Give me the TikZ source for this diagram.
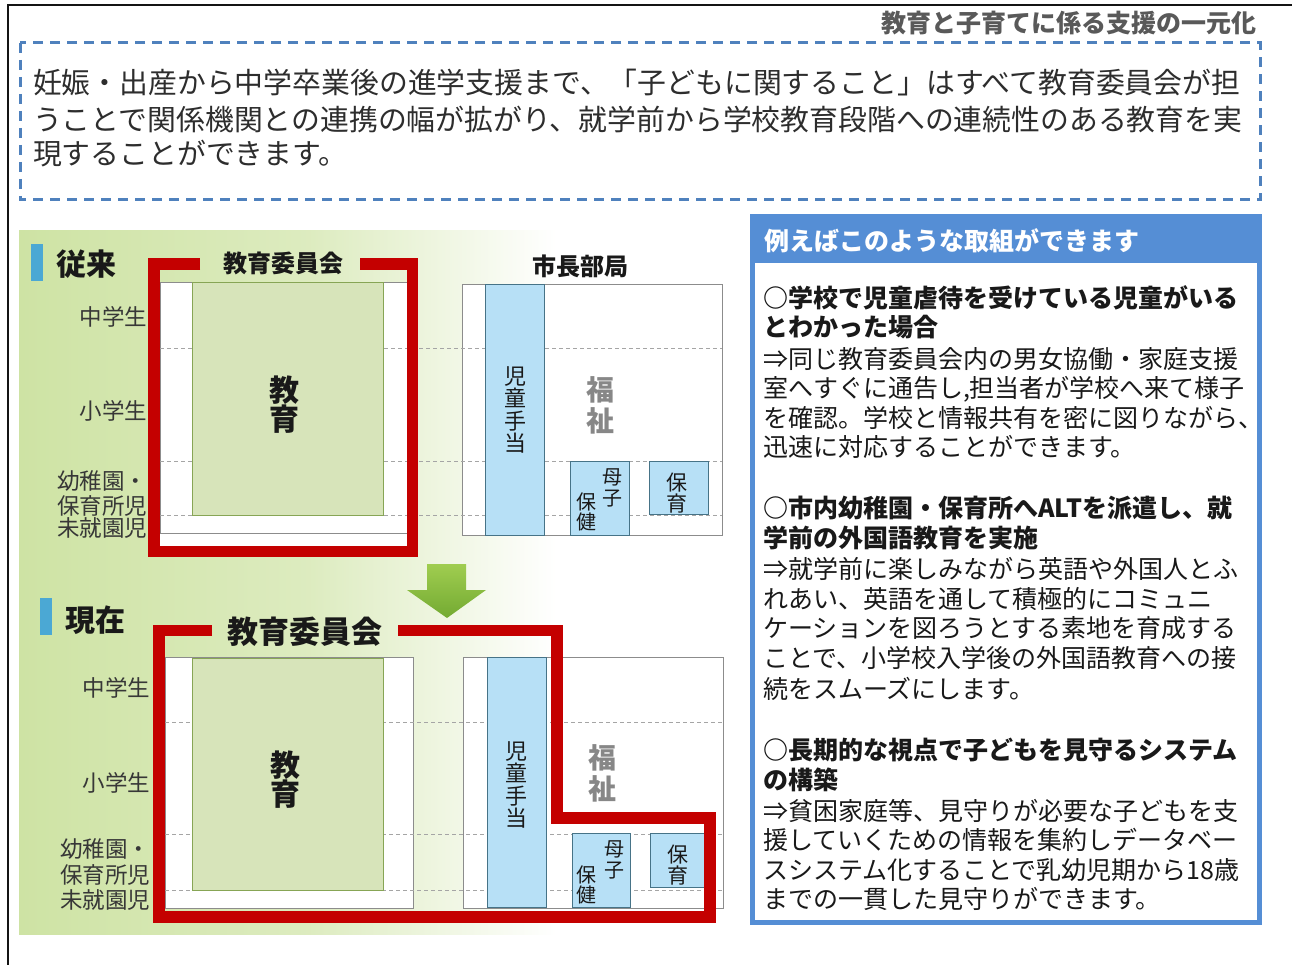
\documentclass[tikz,border=0pt]{standalone}
\usepackage{fontspec}
\setmainfont{Noto Sans CJK JP}
\definecolor{framebk}{RGB}{20,20,20}
\definecolor{titlegray}{RGB}{89,89,89}
\definecolor{dashblue}{RGB}{79,129,189}
\definecolor{paratext}{RGB}{45,45,45}
\definecolor{bggreen}{RGB}{206,227,164}
\colorlet{bgmid}{bggreen!70!white}
\definecolor{barblue}{RGB}{75,168,212}
\definecolor{redc}{RGB}{196,0,0}
\definecolor{boxgray}{RGB}{140,140,140}
\definecolor{dashgray}{RGB}{165,165,165}
\definecolor{gboxfill}{RGB}{215,228,186}
\definecolor{gboxdraw}{RGB}{135,165,85}
\definecolor{bboxfill}{RGB}{183,224,246}
\definecolor{bboxdraw}{RGB}{70,115,135}
\definecolor{lblc}{RGB}{55,55,55}
\definecolor{fukushi}{RGB}{135,135,135}
\definecolor{panelblue}{RGB}{85,142,213}
\definecolor{bodyc}{RGB}{25,25,25}
\definecolor{arrowtop}{RGB}{160,205,80}
\definecolor{arrowbot}{RGB}{115,170,50}
\pgfdeclarehorizontalshading{bgsh}{100bp}{color(0bp)=(bggreen); color(25bp)=(bggreen); color(45bp)=(bgmid); color(62bp)=(white); color(100bp)=(white)}
\newcommand\myfs[1]{\fontsize{#1pt}{#1pt}\selectfont}
\tikzset{
  txt/.style={inner sep=0pt, outer sep=0pt},
  paraline/.style={txt, anchor=west, text=paratext, font=\myfs{28.85}},
  bodyline/.style={txt, anchor=west, text=bodyc, font=\myfs{25}},
  headline/.style={txt, anchor=west, text=bodyc, font=\myfs{25}\bfseries},
  rowlbl/.style={txt, anchor=east, text=lblc, font=\myfs{22.5}},
  secttl/.style={txt, text=bodyc, font=\myfs{30}\bfseries},
  whitebox/.style={fill=white, draw=boxgray, line width=1pt},
  greenbox/.style={fill=gboxfill, draw=gboxdraw, line width=1pt},
  bluebox/.style={fill=bboxfill, draw=bboxdraw, line width=1pt},
  gridline/.style={draw=dashgray, line width=1pt, dash pattern=on 4pt off 3pt},
  redline/.style={draw=redc, line width=11.5pt},
  vsmall/.style={txt, align=center, text=bodyc},
}
\begin{document}
\begin{tikzpicture}[x=1pt,y=-1pt]
\useasboundingbox (0,0) rectangle (1292,965);
\fill[white] (0,0) rectangle (1292,965);
% outer frame
\draw[framebk, line width=2pt] (8,965) -- (8,5) -- (1292,5);
% title
\node[txt, anchor=east, text=titlegray, font=\myfs{25}\bfseries] (title) at (1256,23) {教育と子育てに係る支援の一元化};
% dashed intro box
\draw[dashblue, line width=3pt, dash pattern=on 10pt off 7pt] (20,43) rectangle (1260,200);
\node[paraline] (p1) at (33,83) {妊娠・出産から中学卒業後の進学支援まで、「子どもに関すること」はすべて教育委員会が担};
\node[paraline] (p2) at (33,119) {うことで関係機関との連携の幅が拡がり、就学前から学校教育段階への連続性のある教育を実};
\node[paraline] (p3) at (33,154) {現することができます。};
% background gradient
\shade[shading=bgsh] (19,231) rectangle (745,934);

% ===== upper section =====
\fill[barblue] (31,244) rectangle (43,281);
\node[secttl, anchor=west] (jurai) at (56,264) {従来};
\fill[white] (160,283) rectangle (407,546);
\draw[whitebox] (160,283) rectangle (408,533);
\draw[whitebox] (462,285) rectangle (722,535);
\draw[gridline] (160,348) -- (722,348);
\draw[gridline] (160,461) -- (722,461);
\draw[gridline] (160,515) -- (722,515);
\draw[greenbox] (192,283) rectangle (383,515);
\draw[bluebox] (485,285) rectangle (544,535);
\draw[bluebox] (570,461) rectangle (629,535);
\draw[bluebox] (649,461) rectangle (708,514);
\node[txt, align=center, text=bodyc, font=\fontsize{30pt}{29pt}\selectfont\bfseries] (kyoiku1) at (284,405) {教\\育};
\node[vsmall, font=\fontsize{22pt}{22.5pt}\selectfont] (jido1) at (515,410) {児\\童\\手\\当};
\node[txt, align=center, text=fukushi, font=\fontsize{28pt}{31pt}\selectfont\bfseries] (fuku1) at (600,405) {福\\祉};
\node[vsmall, font=\fontsize{20pt}{20.5pt}\selectfont] (boshi1) at (612,488) {母\\子};
\node[vsmall, font=\fontsize{20pt}{20.5pt}\selectfont] (hoken1) at (586,512) {保\\健};
\node[vsmall, font=\fontsize{21pt}{21pt}\selectfont] (hoiku1) at (677,493) {保\\育};
\draw[redline] (200,264) -- (154,264) -- (154,551.5) -- (412.5,551.5) -- (412.5,264) -- (360,264);
\node[txt, text=bodyc, font=\myfs{24}\bfseries] (iinkai1) at (283,263) {教育委員会};
\node[txt, text=bodyc, font=\myfs{24}\bfseries] (shicho) at (580,266) {市長部局};
\node[rowlbl] (r1a) at (147,317) {中学生};
\node[rowlbl] (r1b) at (147,411) {小学生};
\node[rowlbl] (r1c) at (147,481) {幼稚園・};
\node[rowlbl] (r1d) at (147,506) {保育所児};
\node[rowlbl] (r1e) at (147,528) {未就園児};

% arrow
\shade[top color=arrowtop, bottom color=arrowbot] (427,564) -- (466,564) -- (466,590) -- (486,590) -- (447,618) -- (407,590) -- (427,590) -- cycle;

% ===== lower section =====
\fill[barblue] (40,598) rectangle (52,635);
\node[secttl, anchor=west] (genzai) at (65,620) {現在};
\draw[whitebox] (165,657) rectangle (413,908);
\draw[whitebox] (463,657) rectangle (723,908);
\draw[gridline] (165,722) -- (723,722);
\draw[gridline] (165,834) -- (723,834);
\draw[gridline] (165,890) -- (723,890);
\draw[greenbox] (192,658) rectangle (383,890);
\draw[bluebox] (487,657) rectangle (546,907);
\draw[bluebox] (572,833) rectangle (630,907);
\draw[bluebox] (650,833) rectangle (707,887);
\node[txt, align=center, text=bodyc, font=\fontsize{30pt}{29pt}\selectfont\bfseries] (kyoiku2) at (285,780) {教\\育};
\node[vsmall, font=\fontsize{22pt}{22.5pt}\selectfont] (jido2) at (516,785) {児\\童\\手\\当};
\node[txt, align=center, text=fukushi, font=\fontsize{28pt}{31pt}\selectfont\bfseries] (fuku2) at (602,773) {福\\祉};
\node[vsmall, font=\fontsize{20pt}{20.5pt}\selectfont] (boshi2) at (614,860) {母\\子};
\node[vsmall, font=\fontsize{20pt}{20.5pt}\selectfont] (hoken2) at (586,885) {保\\健};
\node[vsmall, font=\fontsize{21pt}{21pt}\selectfont] (hoiku2) at (678,865) {保\\育};
\draw[redline] (212,630.5) -- (159,630.5) -- (159,917) -- (710,917) -- (710,818) -- (557,818) -- (557,630.5) -- (398,630.5);
\node[txt, text=bodyc, font=\myfs{31}\bfseries] (iinkai2) at (305,632) {教育委員会};
\node[rowlbl] (r2a) at (150,688) {中学生};
\node[rowlbl] (r2b) at (150,783) {小学生};
\node[rowlbl] (r2c) at (150,849) {幼稚園・};
\node[rowlbl] (r2d) at (150,875) {保育所児};
\node[rowlbl] (r2e) at (150,900) {未就園児};

% ===== right panel =====
\fill[white] (750,214) rectangle (1262,925);
\draw[panelblue, line width=5pt] (752.5,216.5) rectangle (1259.5,922.5);
\fill[panelblue] (750,214) rectangle (1262,263);
\node[txt, anchor=west, text=white, font=\myfs{25}\bfseries] (phead) at (764,241) {例えばこのような取組ができます};

\node[headline] (a1) at (763,298) {○学校で児童虐待を受けている児童がいる};
\node[headline] (a2) at (763,327) {とわかった場合};
\node[bodyline] (a3) at (763,359) {⇒同じ教育委員会内の男女協働・家庭支援};
\node[bodyline] (a4) at (763,389) {室へすぐに通告し,担当者が学校へ来て様子};
\node[bodyline] (a5) at (763,418) {を確認。学校と情報共有を密に図りながら、};
\node[bodyline] (a6) at (763,447) {迅速に対応することができます。};

\node[headline] (b1) at (763,508) {○市内幼稚園・保育所へALTを派遣し、就};
\node[headline] (b2) at (763,538) {学前の外国語教育を実施};
\node[bodyline] (b3) at (763,569) {⇒就学前に楽しみながら英語や外国人とふ};
\node[bodyline] (b4) at (763,599) {れあい、英語を通して積極的にコミュニ};
\node[bodyline] (b5) at (763,628) {ケーションを図ろうとする素地を育成する};
\node[bodyline] (b6) at (763,658) {ことで、小学校入学後の外国語教育への接};
\node[bodyline] (b7) at (763,689) {続をスムーズにします。};

\node[headline] (c1) at (763,750) {○長期的な視点で子どもを見守るシステム};
\node[headline] (c2) at (763,780) {の構築};
\node[bodyline] (c3) at (763,811) {⇒貧困家庭等、見守りが必要な子どもを支};
\node[bodyline] (c4) at (763,840) {援していくための情報を集約しデータベー};
\node[bodyline] (c5) at (763,870) {スシステム化することで乳幼児期から18歳};
\node[bodyline] (c6) at (763,899) {までの一貫した見守りができます。};
\end{tikzpicture}
\end{document}
